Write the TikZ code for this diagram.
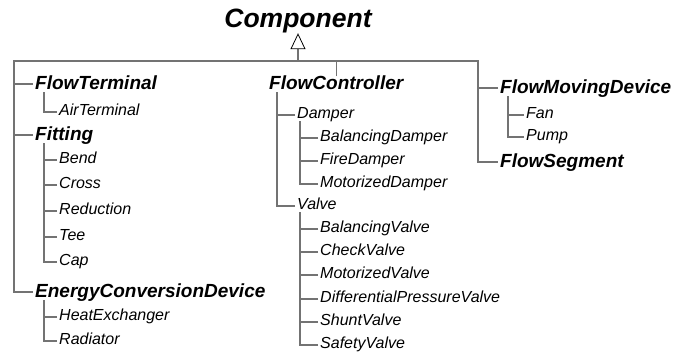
\documentclass[tikz,border=0pt]{standalone}
\usepackage{fontspec}
\setmainfont{Liberation Sans}
\usepackage{xcolor}
\usetikzlibrary{arrows.meta}

\begin{document}
\begin{tikzpicture}[
  x=1pt, y=-1pt,
  root/.style={font=\fontsize{26.5}{30}\selectfont\bfseries\itshape, anchor=base, inner sep=0.5pt},
  group/.style={font=\fontsize{19}{22}\selectfont\bfseries\itshape, anchor=west,
                inner sep=2pt, text height=1.1em, text depth=0pt},
  leaf/.style={font=\fontsize{16}{19}\selectfont\itshape, anchor=west,
               inner sep=2pt, text height=0.72em, text depth=0pt},
  wire/.style={draw=black!55, line width=1.2pt},
  gen/.style={wire, -{Triangle[open, length=16pt, width=15pt, line width=0.8pt, color=black]}},
]
  \useasboundingbox (0,0) rectangle (688,354);

  \node[root] (comp) at (298,27) {Component};

  % trunk positions
  \coordinate (hub) at (298,61);
  \coordinate (lt)  at (14,61);
  \coordinate (rt)  at (478,61);
  \coordinate (lk)  at (44,0);
  \coordinate (mk)  at (277,0);
  \coordinate (dk)  at (300,0);
  \coordinate (rk)  at (508,0);

  % left column
  \node[group] (ft)    at (33,84)   {FlowTerminal};
  \node[leaf]  (at)    at (57,112)  {AirTerminal};
  \node[group] (fit)   at (33,135)  {Fitting};
  \node[leaf]  (bend)  at (57,160)  {Bend};
  \node[leaf]  (cross) at (57,185)  {Cross};
  \node[leaf]  (red)   at (57,211)  {Reduction};
  \node[leaf]  (tee)   at (57,237)  {Tee};
  \node[leaf]  (cap)   at (57,262)  {Cap};
  \node[group] (ecd)   at (33,292)  {EnergyConversionDevice};
  \node[leaf]  (hx)    at (57,317)  {HeatExchanger};
  \node[leaf]  (rad)   at (57,341)  {Radiator};

  % middle column
  \node[group] (fc)    at (267,84)  {FlowController};
  \node[leaf]  (damp)  at (295,115) {Damper};
  \node[leaf]  (bdamp) at (318,138) {BalancingDamper};
  \node[leaf]  (fdamp) at (318,161) {FireDamper};
  \node[leaf]  (mdamp) at (318,184) {MotorizedDamper};
  \node[leaf]  (valve) at (295,206) {Valve};
  \node[leaf]  (bval)  at (318,229) {BalancingValve};
  \node[leaf]  (cval)  at (318,252) {CheckValve};
  \node[leaf]  (mval)  at (318,275) {MotorizedValve};
  \node[leaf]  (dpval) at (318,299) {DifferentialPressureValve};
  \node[leaf]  (shval) at (318,322) {ShuntValve};
  \node[leaf]  (sfval) at (318,345) {SafetyValve};

  % right column
  \node[group] (fmd)   at (498,88)  {FlowMovingDevice};
  \node[leaf]  (fan)   at (524,115) {Fan};
  \node[leaf]  (pump)  at (524,137) {Pump};
  \node[group] (fseg)  at (498,162) {FlowSegment};

  % generalisation
  \draw[gen] (hub) -- (comp.south);

  % main bus
  \draw[wire] (ecd.west) -| (lt) -- (rt) |- (fseg.west);
  \draw[wire] (fc.north) -- (fc.north |- rt);
  \foreach \n in {ft, fit}
    \draw[wire] (\n.west) -- (\n.west -| lt);
  \draw[wire] (fmd.west) -- (fmd.west -| rt);

  % left subtrees
  \draw[wire] (at.west) -| (lk |- ft.south);
  \draw[wire] (cap.west) -| (lk |- fit.south);
  \foreach \n in {bend, cross, red, tee}
    \draw[wire] (\n.west) -- (\n.west -| lk);
  \draw[wire] (rad.west) -| (lk |- ecd.south);
  \draw[wire] (hx.west) -- (hx.west -| lk);

  % middle subtrees
  \draw[wire] (valve.west) -| (mk |- fc.south);
  \draw[wire] (damp.west) -- (damp.west -| mk);
  \draw[wire] (mdamp.west) -| (dk |- damp.south);
  \foreach \n in {bdamp, fdamp}
    \draw[wire] (\n.west) -- (\n.west -| dk);
  \draw[wire] (sfval.west) -| (dk |- valve.south);
  \foreach \n in {bval, cval, mval, dpval, shval}
    \draw[wire] (\n.west) -- (\n.west -| dk);

  % right subtree
  \draw[wire] (pump.west) -| (rk |- fmd.south);
  \draw[wire] (fan.west) -- (fan.west -| rk);
\end{tikzpicture}
\end{document}
